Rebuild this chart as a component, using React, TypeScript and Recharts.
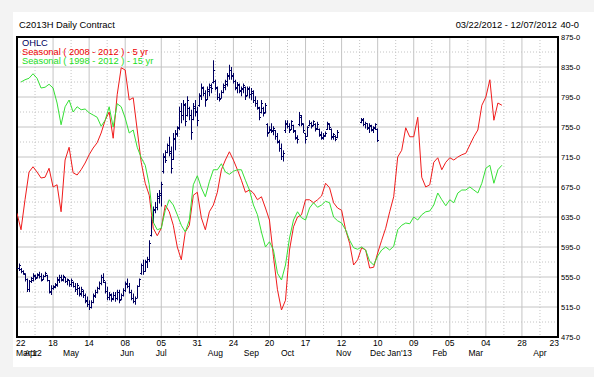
import React from "react";
import {
    ComposedChart,
    Bar,
    Line,
    XAxis,
    YAxis,
    CartesianGrid,
    ReferenceArea,
} from "recharts";

const FONT = "'Liberation Sans', Arial, sans-serif";
const NAVY = "#000060";
const RED = "#f01c1c";
const GREEN = "#36e036";

// x axis is a trading-day index, 0 = 22 Mar 2012
const dayTicks = [0, 18, 36, 54, 72, 90, 108, 126, 144, 162, 180, 198, 216, 234, 252, 270];
const dayLabels = ["22", "18", "14", "08", "05", "31", "24", "20", "17", "12", "10", "09", "05", "04", "28", "23"];
const monthTicks = [0, 7, 27, 55, 72, 99, 117, 135, 163, 180, 191, 211, 229, 261];
const monthLabels = ["Mar'12", "Apr", "May", "Jun", "Jul", "Aug", "Sep", "Oct", "Nov", "Dec", "Jan'13", "Feb", "Mar", "Apr"];
const priceTicks = [475, 515, 555, 595, 635, 675, 715, 755, 795, 835, 875];
const priceMinor = [495, 535, 575, 615, 655, 695, 735, 775, 815, 855];
const dayMinor = [9, 27, 45, 63, 81, 99, 117, 135, 153, 171, 189, 207, 225, 243, 261];

// daily bars [open, high, low, close], null = no trade data
const ohlc: ([number, number, number, number] | null)[] = [
    [569, 571, 564, 566], [566, 573, 563, 570], [565, 567, 560, 562], [562, 564, 558, 560], [559, 560, 549, 552],
    [551, 553, 535, 538], [538, 551, 535, 549], [549, 555, 547, 553], [551, 560, 549, 557], [556, 558, 551, 553],
    [554, 560, 553, 558], [557, 562, 553, 555], [556, 560, 549, 551], [552, 558, 551, 556], [556, 562, 555, 560],
    [557, 558, 549, 551], [550, 551, 533, 536], [535, 544, 531, 540], [540, 544, 538, 542], [541, 547, 540, 545],
    [544, 555, 542, 552], [551, 558, 547, 555], [554, 558, 549, 551], [552, 558, 549, 556], [555, 555, 547, 549],
    [549, 553, 544, 551], [550, 551, 542, 545], [545, 553, 542, 550], [548, 549, 541, 543], [543, 547, 535, 538],
    [538, 547, 531, 544], [540, 542, 529, 532], [533, 542, 529, 538], [536, 538, 527, 530], [531, 533, 520, 523],
    [524, 529, 515, 518], [518, 524, 511, 514], [515, 524, 513, 521], [521, 533, 520, 530], [529, 538, 527, 535],
    [535, 542, 533, 540], [540, 549, 538, 546], [546, 558, 544, 555], [555, 560, 547, 550], [548, 549, 533, 536],
    [536, 542, 524, 528], [528, 535, 524, 532], [531, 533, 522, 525], [526, 535, 524, 531], [530, 535, 522, 526],
    [527, 538, 524, 535], [534, 538, 520, 524], [525, 533, 524, 530], [530, 540, 529, 537], [537, 549, 535, 546],
    [545, 553, 540, 542], [542, 547, 533, 535], [535, 538, 524, 527], [527, 533, 520, 523], [522, 529, 518, 526],
    [527, 544, 527, 542], [543, 553, 542, 551], [560, 573, 558, 570], [570, 578, 558, 562], [563, 578, 562, 575],
    [574, 582, 567, 578], [578, 604, 575, 600], [610, 636, 609, 630], [630, 649, 627, 645], [644, 655, 640, 648],
    [648, 667, 644, 662], [660, 671, 653, 666], [664, 682, 649, 678], [695, 720, 693, 715], [714, 724, 707, 710],
    [721, 733, 720, 730], [730, 742, 716, 722], [720, 729, 693, 700], [712, 747, 711, 740], [738, 751, 724, 746],
    [745, 756, 742, 753], [754, 782, 751, 776], [775, 787, 760, 770], [770, 791, 764, 785], [783, 787, 756, 762],
    [770, 796, 769, 790], [780, 782, 764, 770], [770, 778, 738, 748], [765, 787, 764, 782], [780, 791, 769, 775],
    [776, 782, 756, 764], [784, 800, 782, 797], [796, 813, 791, 808], [806, 809, 796, 800], [800, 804, 782, 790],
    [792, 809, 791, 805], [803, 813, 796, 810], [808, 813, 800, 806], [814, 844, 813, 830], [816, 818, 804, 808],
    [806, 809, 791, 795], [795, 800, 789, 792], [793, 804, 793, 801], [801, 813, 800, 810], [808, 818, 804, 815],
    [812, 827, 809, 824], [822, 838, 818, 830], [830, 835, 818, 822], [824, 827, 813, 816], [815, 818, 804, 808],
    [806, 815, 800, 812], [810, 813, 800, 803], [804, 809, 796, 806], [805, 813, 800, 810], [808, 809, 791, 796],
    [797, 809, 796, 806], [805, 809, 793, 798], [798, 807, 791, 802], [800, 804, 787, 790], [790, 796, 782, 786],
    [786, 791, 778, 781], [780, 782, 764, 768], [775, 791, 773, 786], [780, 782, 769, 773], [774, 787, 773, 784],
    [758, 760, 742, 746], [748, 756, 747, 752], [751, 760, 747, 749], [750, 756, 744, 753], [750, 751, 738, 742],
    [742, 747, 733, 736], [735, 738, 722, 726], [726, 733, 711, 716], [716, 724, 709, 720], [750, 764, 747, 760],
    [758, 764, 753, 756], [756, 760, 747, 751], [752, 764, 751, 762], [757, 758, 747, 750], [749, 751, 738, 741],
    [740, 744, 733, 738], [758, 775, 756, 770], [768, 771, 756, 760], [758, 760, 747, 750], [746, 747, 733, 738],
    [743, 756, 742, 754], [757, 764, 756, 760], [759, 762, 753, 756], [757, 764, 756, 762], [758, 760, 749, 752],
    [753, 762, 751, 758], [752, 753, 742, 745], [744, 749, 738, 740], [741, 747, 738, 744], [743, 749, 742, 746],
    [752, 762, 751, 760], [758, 760, 751, 754], [752, 753, 738, 741], [742, 747, 738, 745], [743, 744, 736, 738],
    [741, 751, 740, 748],
    null, null, null, null, null, null, null, null, null, null, null,
    [761, 767, 760, 765], [764, 767, 756, 759], [758, 762, 753, 760], [759, 760, 751, 753], [754, 760, 747, 757],
    [756, 758, 749, 751], [752, 756, 747, 754], [753, 760, 751, 758], [752, 753, 735, 737],
];

// Seasonal ( 2008 - 2012 ) - 5 yr, every 2nd trading day from index 0
const seasonal5 = [
    640, 618, 658, 695, 702, 695, 687, 688, 700, 675,
    678, 642, 711, 728, 694, 691, 698, 707, 718, 727,
    734, 747, 764, 775, 740, 798, 834, 831, 791, 794,
    751, 708, 680, 664, 620, 610, 620, 651, 642, 624,
    595, 578, 615, 624, 664, 668, 634, 618, 642, 651,
    668, 698, 711, 722, 711, 698, 684, 668, 671, 667,
    658, 662, 647, 631, 582, 538, 511, 524, 591, 622,
    635, 638, 658, 658, 654, 658, 663, 680, 674, 654,
    647, 644, 618, 600, 571, 578, 594, 591, 567, 568,
    587, 604, 620, 642, 662, 715, 724, 754, 742, 742,
    768, 688, 675, 678, 708, 714, 698, 708, 714, 711,
    715, 718, 720, 731, 742, 751, 784, 795, 818, 764,
    787, 784,
];

// Seasonal ( 1998 - 2012 ) - 15 yr, every 2nd trading day from index 2
const seasonal15 = [
    815, 818, 820, 826, 820, 807, 808, 812, 807, 787,
    758, 782, 791, 775, 782, 778, 779, 774, 771, 768,
    756, 764, 782, 755, 786, 782, 767, 747, 751, 728,
    714, 704, 678, 628, 618, 620, 644, 658, 651, 638,
    624, 615, 631, 678, 690, 674, 662, 682, 698, 698,
    706, 695, 692, 696, 698, 698, 684, 671, 651, 638,
    615, 595, 602, 591, 560, 551, 571, 607, 631, 642,
    634, 631, 647, 654, 648, 651, 656, 654, 635, 630,
    627, 618, 604, 594, 592, 595, 591, 576, 571, 583,
    591, 595, 591, 596, 618, 624, 627, 626, 635, 631,
    638, 642, 643, 651, 667, 658, 650, 658, 654, 667,
    671, 671, 675, 671, 667, 680, 700, 704, 680, 698,
    704,
];

const rows: any[] = [];
for (let i = 0; i <= 270; i++) {
    const bar = ohlc[i];
    const r = i % 2 === 0 ? seasonal5[i / 2] : undefined;
    const g = i % 2 === 0 && i >= 2 ? seasonal15[(i - 2) / 2] : undefined;
    rows.push({
        i,
        range: bar ? [bar[2], bar[1]] : null,
        open: bar ? bar[0] : null,
        close: bar ? bar[3] : null,
        red: r === undefined ? null : r,
        green: g === undefined ? null : g,
    });
}

function OhlcShape(props: any) {
    const { x, y, width, height, payload } = props;
    if (!payload || !payload.range || x == null || y == null) return null;
    const [lo, hi] = payload.range;
    const top = Math.min(y, y + height);
    const bot = Math.max(y, y + height);
    const cx = Math.floor(x + width / 2) + 0.5;
    const span = hi - lo || 1;
    const px = (v: number) => Math.round(top + ((hi - v) / span) * (bot - top) - 0.5) + 0.5;
    const yo = px(payload.open);
    const yc = px(payload.close);
    return (
        <g stroke={NAVY} strokeWidth={1} fill="none">
            <line x1={cx} x2={cx} y1={top} y2={bot} />
            <line x1={cx - 1.5} x2={cx} y1={yo} y2={yo} />
            <line x1={cx} x2={cx + 1.5} y1={yc} y2={yc} />
        </g>
    );
}

function DayTick(props: any) {
    const { x, y, payload, index } = props;
    const k = dayTicks.indexOf(payload.value);
    let anchor = "middle";
    let dx = 0;
    if (index === 0) { anchor = "start"; dx = -1; }
    if (k === dayTicks.length - 1) { anchor = "end"; dx = 1; }
    return (
        <text x={x + dx} y={y + 8.5} textAnchor={anchor} fontSize={8.5} fontFamily={FONT} fill="#000">
            {dayLabels[k]}
        </text>
    );
}

function MonthTick(props: any) {
    const { x, y, payload, index } = props;
    const k = monthTicks.indexOf(payload.value);
    return (
        <text x={index === 0 ? x - 1 : x} y={y + 7} textAnchor={index === 0 ? "start" : "middle"} fontSize={8.5} fontFamily={FONT} fill="#000">
            {monthLabels[k]}
        </text>
    );
}

function PriceTick(props: any) {
    const { x, y, payload } = props;
    return (
        <text x={x + 3} y={y + 2.5} textAnchor="start" fontSize={7.5} fontFamily={FONT} fill="#000">
            {`${payload.value}-0`}
        </text>
    );
}

export default function App() {
    return (
        <div style={{ position: "absolute", left: 0, top: 0, width: 594, height: 377, background: "#f3f3f3", overflow: "hidden" }}>
            <div style={{ position: "absolute", left: 13, top: 12, width: 581, height: 355, background: "#fff" }} />
            <div style={{ position: "absolute", left: 0, top: 0 }}>
                <ComposedChart width={594} height={377} data={rows} margin={{ top: 37, right: 6, bottom: 10, left: 17 }}>
                    <CartesianGrid stroke="#c4c4c4" horizontalValues={priceTicks} verticalValues={dayTicks} />
                    <CartesianGrid stroke="#c4c4c4" strokeDasharray="1 2" horizontalValues={priceMinor} verticalValues={dayMinor} />
                    <XAxis
                        dataKey="i"
                        type="number"
                        domain={[0, 270]}
                        allowDataOverflow
                        ticks={dayTicks}
                        interval={0}
                        height={12}
                        tickSize={0}
                        tickMargin={0}
                        axisLine={false}
                        tickLine={false}
                        tick={<DayTick />}
                    />
                    <XAxis
                        xAxisId="m"
                        dataKey="i"
                        type="number"
                        domain={[0, 270]}
                        allowDataOverflow
                        ticks={monthTicks}
                        interval={0}
                        height={18}
                        tickSize={0}
                        tickMargin={0}
                        axisLine={false}
                        tickLine={false}
                        tick={<MonthTick />}
                    />
                    <YAxis
                        orientation="right"
                        domain={[475, 875]}
                        allowDataOverflow
                        ticks={priceTicks}
                        interval={0}
                        width={30}
                        tickSize={0}
                        tickMargin={0}
                        axisLine={false}
                        tickLine={false}
                        tick={<PriceTick />}
                    />
                    <Bar dataKey="range" barSize={2} shape={<OhlcShape />} isAnimationActive={false} />
                    <Line type="linear" dataKey="red" stroke={RED} strokeWidth={1} dot={false} activeDot={false} connectNulls isAnimationActive={false} />
                    <Line type="linear" dataKey="green" stroke={GREEN} strokeWidth={1} dot={false} activeDot={false} connectNulls isAnimationActive={false} />
                    <ReferenceArea x1={0} x2={270} y1={475} y2={875} fill="none" stroke="#000" strokeWidth={2} ifOverflow="visible" />
                </ComposedChart>
            </div>
            <svg width={594} height={377} style={{ position: "absolute", left: 0, top: 0, pointerEvents: "none" }} fontFamily={FONT}>
                <text x={19} y={28} fontSize={9.4} fill="#000">C2013H Daily Contract</text>
                <text x={557} y={27.5} fontSize={9.3} fill="#000" textAnchor="end">03/22/2012 - 12/07/2012</text>
                <text x={579} y={27.5} fontSize={9.3} fill="#000" textAnchor="end">40-0</text>
                <text x={22} y={46} fontSize={9.3} fill={NAVY}>OHLC</text>
                <text x={22} y={55} fontSize={9.3} fill="#ee0000">Seasonal ( 2008 - 2012 ) - 5 yr</text>
                <text x={22} y={64} fontSize={9.3} fill="#22dd22">Seasonal ( 1998 - 2012 ) - 15 yr</text>
            </svg>
        </div>
    );
}
